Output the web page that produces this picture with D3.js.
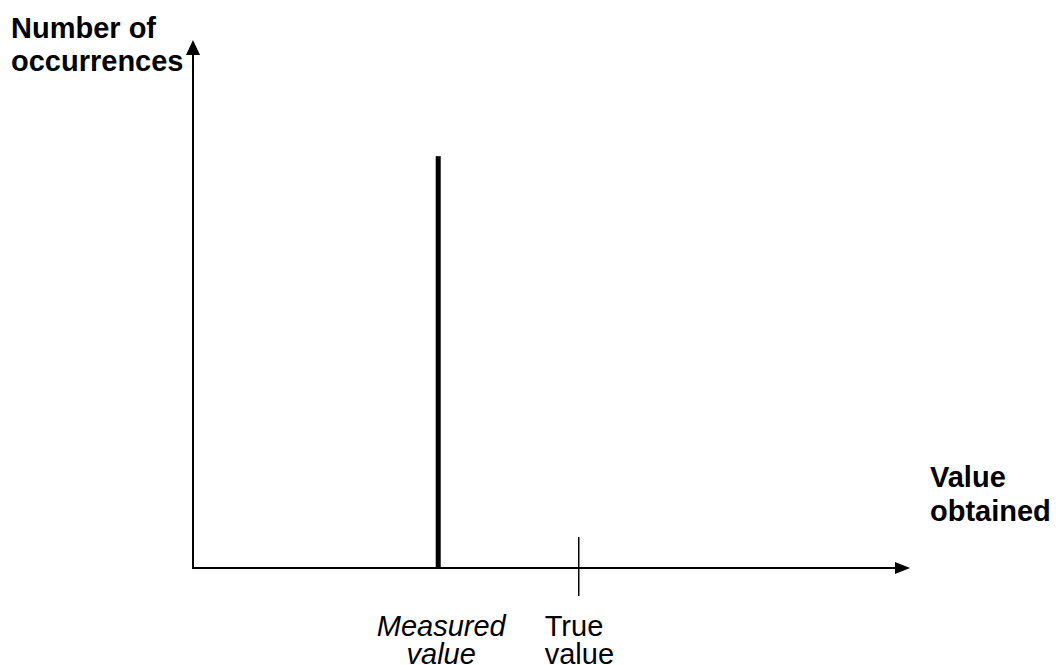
<!DOCTYPE html>
<html>
<head>
<meta charset="utf-8">
<script src="https://cdn.jsdelivr.net/npm/d3@7"></script>
<style>
  body { margin: 0; background: #fff; }
  text { font-family: "Liberation Sans", Arial, sans-serif; fill: #000; }
</style>
</head>
<body>
<svg id="chart" width="1056" height="665"></svg>
<script>
// values
const xDomain = [0, 100];
const yDomain = [0, 10];
const measuredValue = [34.2];     // x position of the measured value
const measuredCount = [7.8];      // height of the measured bar
const trueValue = [53.8];         // x position of the true value
const yTitle = ["Number of", "occurrences"];
const xTitle = ["Value", "obtained"];
const measuredLabel = ["Measured", "value"];
const trueLabel = ["True", "value"];

const svg = d3.select("#chart");

const x = d3.scaleLinear().domain(xDomain).range([193, 910]);
const y = d3.scaleLinear().domain(yDomain).range([568, 40]);

// axes with arrowheads
svg.append("line")
    .attr("x1", x(0)).attr("x2", x(xDomain[1]) - 10)
    .attr("y1", y(0)).attr("y2", y(0))
    .attr("stroke", "#000").attr("stroke-width", 2);

svg.append("line")
    .attr("x1", x(0)).attr("x2", x(0))
    .attr("y1", y(0) + 1).attr("y2", y(yDomain[1]) + 10)
    .attr("stroke", "#000").attr("stroke-width", 2);

const xt = x(xDomain[1]), y0 = y(0);
svg.append("polygon")
    .attr("points", `${xt},${y0} ${xt - 15},${y0 - 6} ${xt - 15},${y0 + 6}`)
    .attr("fill", "#000");

const yt = y(yDomain[1]), x0 = x(0);
svg.append("polygon")
    .attr("points", `${x0},${yt} ${x0 - 7},${yt + 15} ${x0 + 7},${yt + 15}`)
    .attr("fill", "#000");

// measured value bar
svg.selectAll(".bar")
    .data(measuredValue)
    .enter().append("rect")
    .attr("class", "bar")
    .attr("x", d => x(d) - 2.5)
    .attr("width", 5)
    .attr("y", (d, i) => y(measuredCount[i]))
    .attr("height", (d, i) => y(0) - y(measuredCount[i]))
    .attr("fill", "#000");

// true value tick
svg.selectAll(".true-tick")
    .data(trueValue)
    .enter().append("line")
    .attr("class", "true-tick")
    .attr("x1", d => x(d)).attr("x2", d => x(d))
    .attr("y1", y(0) - 31).attr("y2", y(0) + 28)
    .attr("stroke", "#000").attr("stroke-width", 1.5);

// labels
function addLines(lines, xp, yp, anchor, weight, style, gap) {
    const t = svg.append("text")
        .attr("x", xp).attr("y", yp)
        .attr("text-anchor", anchor)
        .attr("font-size", "29px")
        .attr("font-weight", weight)
        .attr("font-style", style);
    lines.forEach((l, i) => {
        t.append("tspan").attr("x", xp).attr("dy", i ? gap : 0).text(l);
    });
}

addLines(yTitle, 11, 38, "start", "bold", "normal", 33);
addLines(xTitle, 930, 487, "start", "bold", "normal", 34);
addLines(measuredLabel, x(measuredValue[0]) + 3, 636, "middle", "normal", "italic", 28);
addLines(trueLabel, x(trueValue[0]) - 34, 636, "start", "normal", "normal", 28);
</script>
</body>
</html>
